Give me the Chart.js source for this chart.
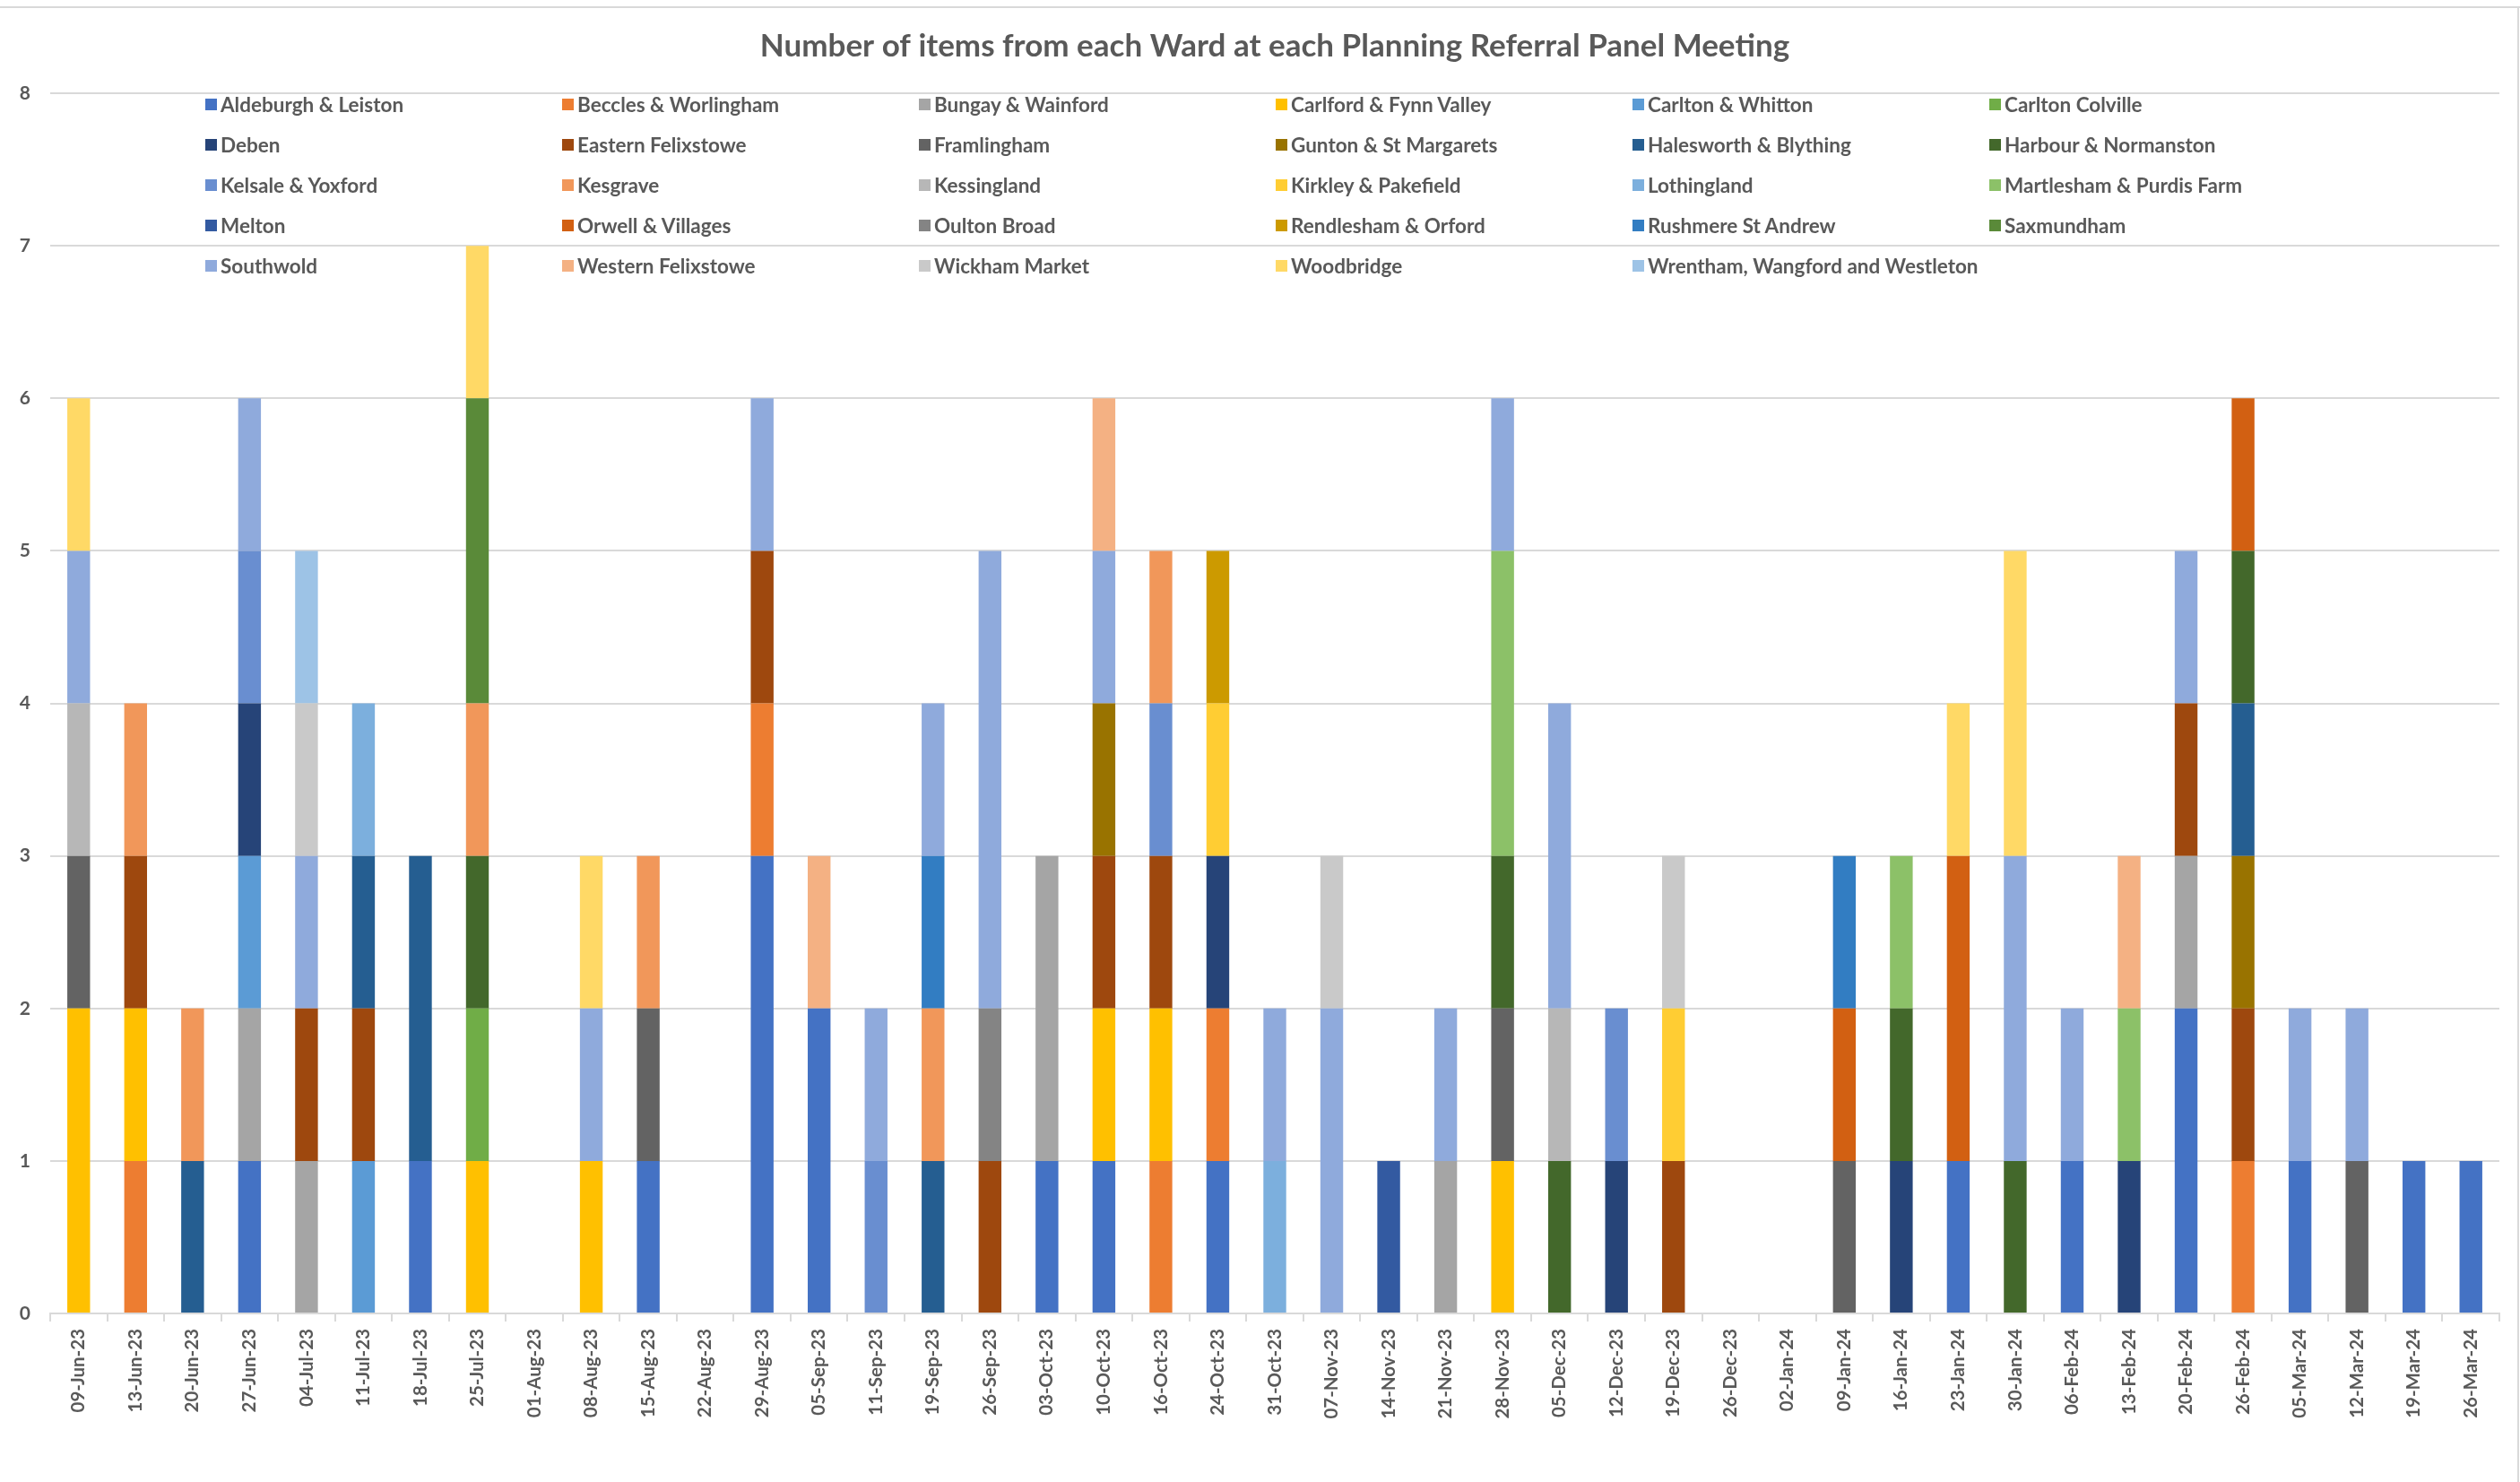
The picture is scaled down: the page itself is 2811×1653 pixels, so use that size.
<!DOCTYPE html>
<html>
<head>
  <meta charset="utf-8">
  <title>Planning Referral Panel items by Ward</title>
  <style>
    body {
      margin: 0;
      background: #fff;
      font-family: Lato, 'Open Sans', sans-serif;
    }

    .wrap {
      position: relative;
      width: 2811px;
      height: 1653px;
      overflow: hidden;
    }

    /* chart frame lines */
    .frame-top {
      position: absolute;
      left: 0;
      top: 7px;
      width: 2811px;
      height: 2px;
      background: #d9d9d9;
    }
    .frame-right {
      position: absolute;
      left: 2808px;
      top: 7px;
      width: 2px;
      height: 1646px;
      background: #d9d9d9;
    }

    /* legend laid out in a 6 column grid over the plot */
    .legend {
      position: absolute;
      left: 229px;
      top: 104px;
      display: grid;
      grid-template-columns: repeat(6, 398px);
      grid-auto-rows: 45px;
    }
    .legend-item {
      display: flex;
      align-items: center;
      height: 25px;
      font-size: 22.5px;
      font-weight: bold;
      color: #595959;
      white-space: nowrap;
    }
    .legend-item span.box {
      display: inline-block;
      width: 13px;
      height: 13px;
      margin-right: 4px;
    }
  </style>
</head>
<body>

  <div class="wrap">
    <canvas id="wardChart" width="2811" height="1653"></canvas>
    <div class="frame-top"></div>
    <div class="frame-right"></div>
    <div class="legend" id="legend"></div>
  </div>

  <script src="https://cdn.jsdelivr.net/npm/chart.js"></script>

  <script>
    const meetings = [
      '09-Jun-23', '13-Jun-23', '20-Jun-23', '27-Jun-23', '04-Jul-23', '11-Jul-23', '18-Jul-23', '25-Jul-23',
      '01-Aug-23', '08-Aug-23', '15-Aug-23', '22-Aug-23', '29-Aug-23', '05-Sep-23', '11-Sep-23', '19-Sep-23',
      '26-Sep-23', '03-Oct-23', '10-Oct-23', '16-Oct-23', '24-Oct-23', '31-Oct-23', '07-Nov-23', '14-Nov-23',
      '21-Nov-23', '28-Nov-23', '05-Dec-23', '12-Dec-23', '19-Dec-23', '26-Dec-23', '02-Jan-24', '09-Jan-24',
      '16-Jan-24', '23-Jan-24', '30-Jan-24', '06-Feb-24', '13-Feb-24', '20-Feb-24', '26-Feb-24', '05-Mar-24',
      '12-Mar-24', '19-Mar-24', '26-Mar-24'
    ];

    const yTicks = [0, 1, 2, 3, 4, 5, 6, 7, 8];

    // items per meeting, one array per ward (43 meetings, grouped by 10)
    const aldeburgh   = [0,0,0,1,0,0,1,0,0,0, 1,0,3,2,0,0,0,1,1,0, 1,0,0,0,0,0,0,0,0,0, 0,0,0,1,0,1,0,2,0,1, 0,1,1];
    const beccles     = [0,1,0,0,0,0,0,0,0,0, 0,0,1,0,0,0,0,0,0,1, 1,0,0,0,0,0,0,0,0,0, 0,0,0,0,0,0,0,0,1,0, 0,0,0];
    const bungay      = [0,0,0,1,1,0,0,0,0,0, 0,0,0,0,0,0,0,2,0,0, 0,0,0,0,1,0,0,0,0,0, 0,0,0,0,0,0,0,1,0,0, 0,0,0];
    const carlford    = [2,1,0,0,0,0,0,1,0,1, 0,0,0,0,0,0,0,0,1,1, 0,0,0,0,0,1,0,0,0,0, 0,0,0,0,0,0,0,0,0,0, 0,0,0];
    const carltonWh   = [0,0,0,1,0,1,0,0,0,0, 0,0,0,0,0,0,0,0,0,0, 0,0,0,0,0,0,0,0,0,0, 0,0,0,0,0,0,0,0,0,0, 0,0,0];
    const carltonCol  = [0,0,0,0,0,0,0,1,0,0, 0,0,0,0,0,0,0,0,0,0, 0,0,0,0,0,0,0,0,0,0, 0,0,0,0,0,0,0,0,0,0, 0,0,0];
    const deben       = [0,0,0,1,0,0,0,0,0,0, 0,0,0,0,0,0,0,0,0,0, 1,0,0,0,0,0,0,1,0,0, 0,0,1,0,0,0,1,0,0,0, 0,0,0];
    const easternFel  = [0,1,0,0,1,1,0,0,0,0, 0,0,1,0,0,0,1,0,1,1, 0,0,0,0,0,0,0,0,1,0, 0,0,0,0,0,0,0,1,1,0, 0,0,0];
    const framlingham = [1,0,0,0,0,0,0,0,0,0, 1,0,0,0,0,0,0,0,0,0, 0,0,0,0,0,1,0,0,0,0, 0,1,0,0,0,0,0,0,0,0, 1,0,0];
    const gunton      = [0,0,0,0,0,0,0,0,0,0, 0,0,0,0,0,0,0,0,1,0, 0,0,0,0,0,0,0,0,0,0, 0,0,0,0,0,0,0,0,1,0, 0,0,0];
    const halesworth  = [0,0,1,0,0,1,2,0,0,0, 0,0,0,0,0,1,0,0,0,0, 0,0,0,0,0,0,0,0,0,0, 0,0,0,0,0,0,0,0,1,0, 0,0,0];
    const harbour     = [0,0,0,0,0,0,0,1,0,0, 0,0,0,0,0,0,0,0,0,0, 0,0,0,0,0,1,1,0,0,0, 0,0,1,0,1,0,0,0,1,0, 0,0,0];
    const kelsale     = [0,0,0,1,0,0,0,0,0,0, 0,0,0,0,1,0,0,0,0,1, 0,0,0,0,0,0,0,1,0,0, 0,0,0,0,0,0,0,0,0,0, 0,0,0];
    const kesgrave    = [0,1,1,0,0,0,0,1,0,0, 1,0,0,0,0,1,0,0,0,1, 0,0,0,0,0,0,0,0,0,0, 0,0,0,0,0,0,0,0,0,0, 0,0,0];
    const kessingland = [1,0,0,0,0,0,0,0,0,0, 0,0,0,0,0,0,0,0,0,0, 0,0,0,0,0,0,1,0,0,0, 0,0,0,0,0,0,0,0,0,0, 0,0,0];
    const kirkley     = [0,0,0,0,0,0,0,0,0,0, 0,0,0,0,0,0,0,0,0,0, 1,0,0,0,0,0,0,0,1,0, 0,0,0,0,0,0,0,0,0,0, 0,0,0];
    const lothingland = [0,0,0,0,0,1,0,0,0,0, 0,0,0,0,0,0,0,0,0,0, 0,1,0,0,0,0,0,0,0,0, 0,0,0,0,0,0,0,0,0,0, 0,0,0];
    const martlesham  = [0,0,0,0,0,0,0,0,0,0, 0,0,0,0,0,0,0,0,0,0, 0,0,0,0,0,2,0,0,0,0, 0,0,1,0,0,0,1,0,0,0, 0,0,0];
    const melton      = [0,0,0,0,0,0,0,0,0,0, 0,0,0,0,0,0,0,0,0,0, 0,0,0,1,0,0,0,0,0,0, 0,0,0,0,0,0,0,0,0,0, 0,0,0];
    const orwell      = [0,0,0,0,0,0,0,0,0,0, 0,0,0,0,0,0,0,0,0,0, 0,0,0,0,0,0,0,0,0,0, 0,1,0,2,0,0,0,0,1,0, 0,0,0];
    const oulton      = [0,0,0,0,0,0,0,0,0,0, 0,0,0,0,0,0,1,0,0,0, 0,0,0,0,0,0,0,0,0,0, 0,0,0,0,0,0,0,0,0,0, 0,0,0];
    const rendlesham  = [0,0,0,0,0,0,0,0,0,0, 0,0,0,0,0,0,0,0,0,0, 1,0,0,0,0,0,0,0,0,0, 0,0,0,0,0,0,0,0,0,0, 0,0,0];
    const rushmere    = [0,0,0,0,0,0,0,0,0,0, 0,0,0,0,0,1,0,0,0,0, 0,0,0,0,0,0,0,0,0,0, 0,1,0,0,0,0,0,0,0,0, 0,0,0];
    const saxmundham  = [0,0,0,0,0,0,0,2,0,0, 0,0,0,0,0,0,0,0,0,0, 0,0,0,0,0,0,0,0,0,0, 0,0,0,0,0,0,0,0,0,0, 0,0,0];
    const southwold   = [1,0,0,1,1,0,0,0,0,1, 0,0,1,0,1,1,3,0,1,0, 0,1,2,0,1,1,2,0,0,0, 0,0,0,0,2,1,0,1,0,1, 1,0,0];
    const westernFel  = [0,0,0,0,0,0,0,0,0,0, 0,0,0,1,0,0,0,0,1,0, 0,0,0,0,0,0,0,0,0,0, 0,0,0,0,0,0,1,0,0,0, 0,0,0];
    const wickham     = [0,0,0,0,1,0,0,0,0,0, 0,0,0,0,0,0,0,0,0,0, 0,0,1,0,0,0,0,0,1,0, 0,0,0,0,0,0,0,0,0,0, 0,0,0];
    const woodbridge  = [1,0,0,0,0,0,0,1,0,1, 0,0,0,0,0,0,0,0,0,0, 0,0,0,0,0,0,0,0,0,0, 0,0,0,1,2,0,0,0,0,0, 0,0,0];
    const wrentham    = [0,0,0,0,1,0,0,0,0,0, 0,0,0,0,0,0,0,0,0,0, 0,0,0,0,0,0,0,0,0,0, 0,0,0,0,0,0,0,0,0,0, 0,0,0];

    const wardNames = [
      'Aldeburgh & Leiston', 'Beccles & Worlingham', 'Bungay & Wainford', 'Carlford & Fynn Valley',
      'Carlton & Whitton', 'Carlton Colville', 'Deben', 'Eastern Felixstowe', 'Framlingham',
      'Gunton & St Margarets', 'Halesworth & Blything', 'Harbour & Normanston', 'Kelsale & Yoxford',
      'Kesgrave', 'Kessingland', 'Kirkley & Pakefield', 'Lothingland', 'Martlesham & Purdis Farm',
      'Melton', 'Orwell & Villages', 'Oulton Broad', 'Rendlesham & Orford', 'Rushmere St Andrew',
      'Saxmundham', 'Southwold', 'Western Felixstowe', 'Wickham Market', 'Woodbridge',
      'Wrentham, Wangford and Westleton'
    ];

    const wardValues = [
      aldeburgh, beccles, bungay, carlford, carltonWh, carltonCol, deben, easternFel, framlingham,
      gunton, halesworth, harbour, kelsale, kesgrave, kessingland, kirkley, lothingland, martlesham,
      melton, orwell, oulton, rendlesham, rushmere, saxmundham, southwold, westernFel, wickham,
      woodbridge, wrentham
    ];

    // office palette: accents, darker, lighter, dark, lightest
    const wardColors = [
      '#4472C4', '#ED7D31', '#A5A5A5', '#FFC000', '#5B9BD5', '#70AD47',
      '#264478', '#9E480E', '#636363', '#997300', '#255E91', '#43682B',
      '#698ED0', '#F1975A', '#B7B7B7', '#FFCD33', '#7CAFDD', '#8CC168',
      '#335AA1', '#D26012', '#848484', '#CC9A00', '#327DC2', '#5A8A39',
      '#8FAADC', '#F4B183', '#C9C9C9', '#FFD966', '#9DC3E6'
    ];

    const textColor = '#595959';
    const gridColor = '#d9d9d9';

    const datasets = wardNames.map((name, i) => ({
      label: name,
      data: wardValues[i],
      backgroundColor: wardColors[i],
      borderWidth: 0,
      barPercentage: 0.4,
      categoryPercentage: 1.0
    }));

    const ctx = document.getElementById('wardChart').getContext('2d');

    const chart = new Chart(ctx, {
      type: 'bar',
      data: {
        labels: meetings,
        datasets: datasets
      },
      options: {
        responsive: false,
        animation: false,
        devicePixelRatio: 1,
        layout: {
          padding: { left: 0, right: 23, top: 0, bottom: 0 }
        },
        plugins: {
          legend: { display: false },
          tooltip: { enabled: false },
          title: {
            display: true,
            fullSize: false,   // centre over the plot area, like the original
            text: 'Number of items from each Ward at each Planning Referral Panel Meeting',
            color: textColor,
            font: { family: 'Lato', size: 35, weight: 'bold' },
            padding: { top: 31, bottom: 31 }
          }
        },
        scales: {
          x: {
            stacked: true,
            grid: {
              offset: true,
              drawOnChartArea: false,
              color: gridColor,
              lineWidth: 2,
              tickLength: 9
            },
            border: { color: gridColor, width: 2 },
            ticks: {
              autoSkip: false,
              minRotation: 90,
              maxRotation: 90,
              padding: 8,
              color: textColor,
              font: { family: 'Lato', size: 20.5, weight: 'bold' }
            },
            afterFit: scale => { scale.height = 188; }
          },
          y: {
            stacked: true,
            min: yTicks[0],
            max: yTicks[yTicks.length - 1],
            grid: {
              color: gridColor,
              lineWidth: 2,
              drawTicks: false
            },
            border: { display: false },
            ticks: {
              stepSize: 1,
              padding: 22,
              color: textColor,
              font: { family: 'Lato', size: 21, weight: 'bold' }
            },
            afterFit: scale => { scale.width = 56; }
          }
        }
      }
    });

    // html legend built from the chart's datasets
    const legendEl = document.getElementById('legend');
    chart.data.datasets.forEach(ds => {
      const item = document.createElement('div');
      item.className = 'legend-item';
      item.innerHTML = `<span class="box" style="background:${ds.backgroundColor}"></span>${ds.label}`;
      legendEl.appendChild(item);
    });
  </script>
</body>
</html>
